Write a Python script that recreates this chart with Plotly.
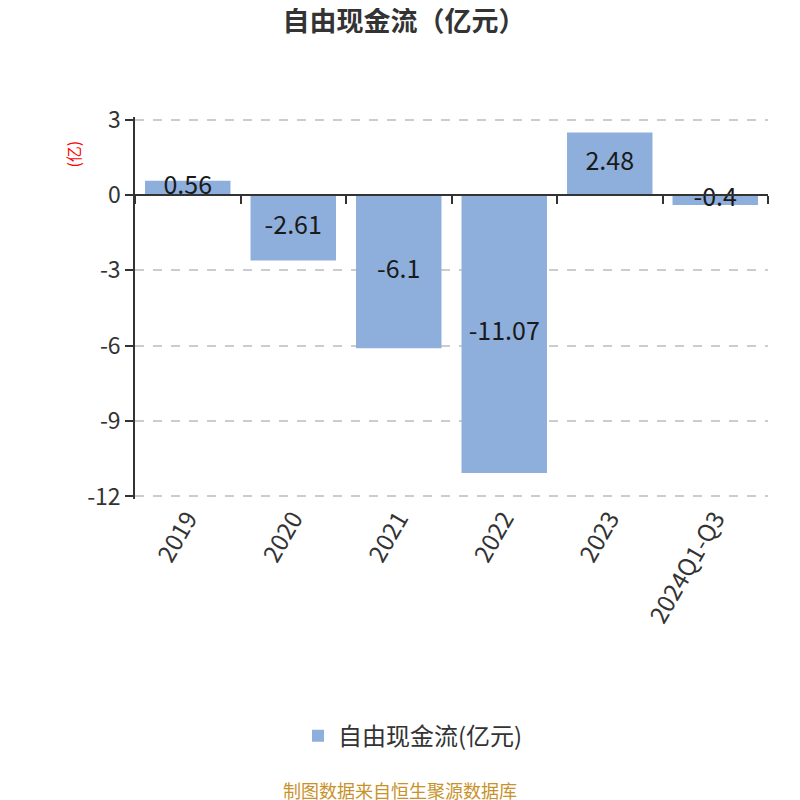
import plotly.graph_objects as go

categories = ["2019", "2020", "2021", "2022", "2023", "2024Q1-Q3"]
values = [0.56, -2.61, -6.1, -11.07, 2.48, -0.4]
value_labels = ["0.56", "-2.61", "-6.1", "-11.07", "2.48", "-0.4"]
y_ticks = [3, 0, -3, -6, -9, -12]

series_name = "自由现金流(亿元)"
title_text = "自由现金流（亿元）"
unit_text = "(亿)"
source_text = "制图数据来自恒生聚源数据库"

FONT = "Noto Sans CJK SC, Noto Sans, sans-serif"
BAR_COLOR = "#8eaedb"
PAD = 0.1
y_min, y_max = -12 - PAD, 3 + PAD
PX_PER_UNIT = 376 / 15.0
pad_px = PAD * PX_PER_UNIT

fig = go.Figure()
fig.add_trace(go.Bar(
    x=categories, y=values, name=series_name,
    marker=dict(color=BAR_COLOR, line=dict(width=0)),
    hoverinfo="x+y",
))
# value labels at bar middle
fig.add_trace(go.Scatter(
    x=categories, y=[v / 2 for v in values], text=value_labels,
    mode="text", textfont=dict(size=25, color="#1a1a1a", family=FONT),
    xaxis="x2", yaxis="y", showlegend=False, hoverinfo="skip",
))

zero_pos = (0 - y_min) / (y_max - y_min)
plot_h = 376 + 2 * pad_px

def py(ref_px):
    # reference page pixel (y) -> paper fraction
    fig_px = ref_px - 8
    return (488 + pad_px - fig_px) / plot_h

def px(ref_px):
    fig_px = ref_px - 8
    return (fig_px - 127) / 633.0

fig.update_layout(
    width=792, height=792,
    paper_bgcolor="white", plot_bgcolor="white",
    margin=dict(l=127, r=32, t=112 - pad_px, b=304 - pad_px),
    font=dict(family=FONT, color="#333333"),
    title=dict(text=title_text, x=0.5, xanchor="center", y=1 - 14 / 792,
               yref="container", yanchor="middle",
               font=dict(size=27, color="#333333", family=FONT, weight="bold")),
    bargap=0.19,
    xaxis=dict(type="category", categoryorder="array", categoryarray=categories,
               range=[-0.5, 5.5], showline=False, showgrid=False, ticks="",
               tickangle=-60, tickfont=dict(size=24, color="#333333"), zeroline=False),
    xaxis2=dict(type="category", categoryorder="array", categoryarray=categories,
                range=[-0.5, 5.5], overlaying="x", anchor="free", position=zero_pos,
                showline=True, linecolor="#333333", linewidth=1.5,
                ticks="outside", tickson="boundaries", ticklen=8, tickwidth=1.5,
                tickcolor="#333333", showticklabels=False, showgrid=False, zeroline=False),
    yaxis=dict(range=[y_min, y_max], tickvals=y_ticks, ticktext=[str(t) for t in y_ticks],
               showline=True, linecolor="#333333", linewidth=1.5,
               ticks="outside", ticklen=8, tickwidth=1.5, tickcolor="#333333",
               showgrid=True, gridcolor="#cccccc", griddash="dash", gridwidth=1.5,
               zeroline=False, tickfont=dict(size=23, color="#333333")),
    legend=dict(orientation="h", x=px(298), xanchor="left", y=py(735), yanchor="middle",
                font=dict(size=24, color="#333333", family=FONT)),
    annotations=[
        dict(text=unit_text, xref="paper", yref="paper", x=px(73), y=py(155),
             xanchor="center", yanchor="middle", textangle=-90, showarrow=False,
             font=dict(size=16, color="#ff0000", family=FONT)),
        dict(text=source_text, xref="paper", yref="paper", x=px(400), y=py(789),
             xanchor="center", yanchor="middle", showarrow=False,
             font=dict(size=18, color="#c8922a", family=FONT)),
    ],
)

fig.write_html("out.html")
